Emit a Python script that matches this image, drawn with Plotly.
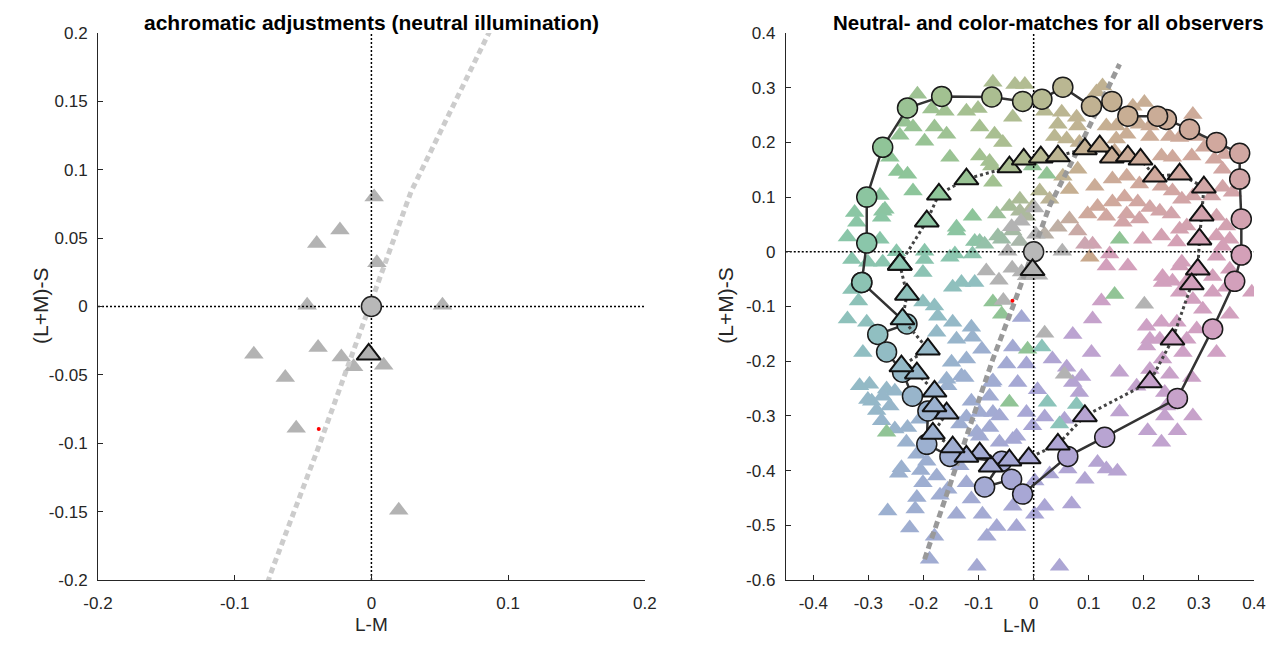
import math
import plotly.graph_objects as go

# ---------------- data ----------------
# left panel: achromatic (neutral) adjustments of individual observers
ach_x = [0.002, -0.023, -0.040, 0.004, -0.047, 0.052, -0.086, -0.039, -0.022, -0.013, 0.009, -0.063, -0.055, 0.020]
ach_y = [0.080, 0.056, 0.046, 0.032, 0.001, 0.001, -0.035, -0.030, -0.037, -0.044, -0.043, -0.052, -0.089, -0.149]

# mean neutral (circle = stimulus, triangle = mean adjustment)
neutral_stim_x = [0.0]
neutral_stim_y = [0.0]
neutral_mean_x = [-0.002]
neutral_mean_y = [-0.035]

# illuminant point
illum_x = [-0.0385]
illum_y = [-0.0895]

# daylight-like locus (dashed)
locus_x = [-0.198, -0.140, -0.113, -0.074, -0.038, 0.029, 0.087, 0.156]
locus_y = [-0.562, -0.391, -0.318, -0.196, -0.101, 0.084, 0.200, 0.343]

# right panel: stimuli (circles) in order
stim_x = [-0.312, -0.230, -0.283, -0.267, -0.238, -0.220, -0.192, -0.194, -0.152, -0.058, -0.089, -0.040,
          -0.020, 0.062, 0.129, 0.261, 0.325, 0.365, 0.377, 0.377, 0.374, 0.374, 0.332, 0.283, 0.241,
          0.225, 0.171, 0.142, 0.105, 0.053, 0.015, -0.020, -0.076, -0.167, -0.229, -0.274, -0.303, -0.303, -0.312]
stim_y = [-0.056, -0.132, -0.151, -0.183, -0.220, -0.264, -0.291, -0.352, -0.374, -0.383, -0.430, -0.416,
          -0.443, -0.374, -0.339, -0.268, -0.141, -0.054, -0.006, 0.060, 0.133, 0.180, 0.200, 0.224, 0.242,
          0.248, 0.248, 0.275, 0.266, 0.301, 0.279, 0.275, 0.283, 0.284, 0.263, 0.191, 0.100, 0.016, -0.056]

# mean matches (triangles) in order
match_x = [-0.243, -0.194, -0.172, -0.122, -0.044, -0.018, 0.013, 0.044, 0.093, 0.120, 0.142, 0.171, 0.194,
           0.220, 0.265, 0.309, 0.305, 0.301, 0.298, 0.287, 0.252, 0.211, 0.093, 0.044, -0.009, -0.044,
           -0.078, -0.098, -0.122, -0.147, -0.183, -0.158, -0.180, -0.180, -0.212, -0.240, -0.192, -0.238,
           -0.230, -0.243]
match_y = [-0.023, 0.056, 0.105, 0.133, 0.155, 0.169, 0.173, 0.175, 0.188, 0.193, 0.173, 0.175, 0.169,
           0.138, 0.142, 0.118, 0.067, 0.023, -0.032, -0.059, -0.160, -0.238, -0.300, -0.352, -0.377, -0.381,
           -0.392, -0.368, -0.374, -0.357, -0.332, -0.295, -0.282, -0.255, -0.222, -0.209, -0.178, -0.123,
           -0.078, -0.023]

# individual observer matches
obs_x = [
    -0.211, -0.074, -0.034, -0.016, -0.185, -0.161, -0.122, -0.101, -0.038, -0.234, -0.219, -0.180, -0.158,
    -0.098, -0.071, -0.243, -0.198, -0.056, -0.152, -0.098, -0.261, -0.247, -0.229, -0.076, -0.074, -0.219,
    -0.279, -0.325, -0.274, -0.276, -0.321, -0.140, -0.111, -0.067, -0.098, -0.038, -0.058, -0.025, -0.279,
    -0.249, -0.198, -0.143, -0.111, -0.044, -0.025, -0.002, -0.013,
    -0.080, -0.270, -0.140, -0.065, -0.107,
    0.020, 0.051, 0.044, 0.114, 0.125, 0.201, 0.180, 0.289, 0.078, 0.080, 0.132, 0.150, 0.192, 0.211, 0.247,
    0.265, 0.296, 0.310, 0.347, 0.038, 0.060, 0.150, 0.169, 0.211, 0.083, 0.147, 0.232, 0.252, 0.287, 0.328,
    0.343, 0.053, 0.080, 0.143, 0.169, 0.192, 0.111, 0.011, 0.065, 0.116, 0.143, 0.165, 0.189, 0.211, 0.232,
    0.252, 0.269, 0.289, 0.323, 0.343, 0.361, 0.065, 0.098, 0.132, 0.169, 0.192, 0.229, 0.250, 0.278, 0.332,
    0.350, 0.162, 0.198, 0.232, 0.260, 0.332, 0.356, 0.107,
    0.265, 0.343, 0.332, 0.356, 0.325, 0.265, 0.234, 0.278,
    0.138, 0.132, 0.171, 0.123, 0.234, 0.252, 0.269, 0.265, 0.289, 0.325, 0.350, 0.396, 0.356, 0.307,
    0.205, 0.232, 0.260, 0.296, 0.211, 0.229, 0.278, 0.205, 0.271, 0.332, 0.234, 0.211, 0.247, 0.287, 0.187,
    0.238, 0.241, 0.289, 0.107, 0.071, 0.105, 0.034, 0.060, 0.087, 0.071, 0.083, 0.156, 0.007, 0.020, 0.056,
    0.156,
    0.238, 0.207, 0.261, 0.232, 0.116, 0.132, 0.152, 0.093, 0.062, 0.029, 0.002, 0.020, 0.069, 0.002, 0.047,
    -0.294, -0.276, -0.252, -0.229, -0.231, -0.212, -0.194, -0.201, -0.176, -0.156, -0.122, -0.113, -0.140,
    -0.212, -0.265, -0.093, -0.067, -0.085, -0.031, -0.038, -0.103, -0.080, -0.062, -0.038, -0.122, -0.098,
    -0.074, -0.013, -0.002, -0.189, -0.103, -0.134,
    -0.267, -0.252, -0.261, -0.156, -0.131, -0.076, -0.113, -0.080, -0.062, -0.098, -0.134, -0.031, -0.207,
    -0.330, -0.301, -0.274, -0.198, -0.201, -0.152, -0.131, -0.107, -0.147, -0.022, -0.201, -0.338, -0.303,
    -0.180, -0.174, -0.147, -0.113, -0.111, -0.140, -0.176, -0.094, -0.038, -0.049, -0.013, -0.149, -0.122,
    -0.074, -0.125, -0.158, -0.310, -0.298, -0.316, -0.274, -0.301, -0.029,
    -0.338, -0.330, -0.318,
    0.029, 0.044, 0.020, 0.080, -0.025, -0.089, 0.093,
    -0.240, -0.205, -0.285, -0.170, -0.215, -0.245, -0.180, -0.225,
]
obs_y = [
    0.288, 0.310, 0.306, 0.306, 0.261, 0.257, 0.257, 0.262, 0.246, 0.237, 0.228, 0.228, 0.215,
    0.228, 0.215, 0.213, 0.202, 0.200, 0.173, 0.175, 0.173, 0.147, 0.142, 0.157, 0.127, 0.111,
    0.103, 0.072, 0.074, 0.063, 0.054, 0.038, 0.065, 0.069, 0.019, 0.038, 0.023, 0.019, 0.023,
    0.000, 0.001, -0.004, -0.004, 0.083, 0.096, 0.083, 0.065,
    0.165, 0.078, 0.045, 0.029, 0.019,
    0.257, 0.255, 0.233, 0.292, 0.303, 0.273, 0.266, 0.251, 0.246, 0.230, 0.230, 0.230, 0.233, 0.230, 0.211,
    0.209, 0.211, 0.191, 0.178, 0.211, 0.206, 0.206, 0.215, 0.211, 0.200, 0.184, 0.175, 0.173, 0.175, 0.169,
    0.151, 0.138, 0.151, 0.133, 0.138, 0.124, 0.120, 0.111, 0.114, 0.083, 0.091, 0.100, 0.091, 0.081, 0.120,
    0.111, 0.096, 0.102, 0.102, 0.118, 0.109, 0.060, 0.069, 0.065, 0.069, 0.060, 0.074, 0.069, 0.047, 0.065,
    0.047, 0.054, 0.023, 0.029, 0.018, 0.029, 0.023, 0.014,
    0.041, 0.010, -0.008, -0.032, -0.045, -0.026, -0.045, -0.054,
    -0.004, -0.026, -0.026, -0.090, -0.056, -0.054, -0.019, -0.074, -0.087, -0.074, -0.065, -0.074, -0.114, -0.105,
    -0.136, -0.129, -0.129, -0.141, -0.160, -0.160, -0.160, -0.172, -0.184, -0.184, -0.196, -0.215, -0.224, -0.230, -0.246,
    -0.257, -0.282, -0.300, -0.123, -0.151, -0.184, -0.196, -0.211, -0.228, -0.239, -0.257, -0.220, -0.252, -0.302, -0.306,
    -0.293,
    -0.300, -0.327, -0.327, -0.348, -0.385, -0.397, -0.401, -0.416, -0.397, -0.406, -0.419, -0.465, -0.461, -0.480, -0.575,
    -0.273, -0.309, -0.324, -0.321, -0.348, -0.370, -0.383, -0.422, -0.410, -0.434, -0.422, -0.452, -0.480,
    -0.449, -0.474, -0.480, -0.502, -0.520, -0.502, -0.465, -0.330, -0.321, -0.348, -0.343, -0.302, -0.294,
    -0.294, -0.294, -0.318, -0.562, -0.575, -0.391,
    -0.251, -0.255, -0.282, -0.245, -0.227, -0.239, -0.273, -0.264, -0.300, -0.337, -0.315, -0.337, -0.306,
    -0.014, -0.019, -0.019, -0.014, -0.038, -0.010, -0.056, -0.056, -0.065, -0.120, -0.092, -0.123, -0.129,
    -0.099, -0.118, -0.129, -0.138, -0.156, -0.160, -0.147, -0.178, -0.174, -0.205, -0.205, -0.202, -0.196,
    -0.236, -0.230, -0.233, -0.184, -0.242, -0.245, -0.264, -0.270, -0.239,
    0.027, -0.069, -0.090,
    0.096, 0.045, 0.032, 0.038, 0.074, 0.014, 0.014,
    -0.395, -0.400, -0.290, -0.445, -0.470, -0.405, -0.520, -0.505,
]

# observer matches that fall far from their stimulus (drawn in stimulus colour)
green_match_x = [0.156, 0.147, -0.044, -0.011, -0.074, -0.058, -0.002, 0.024, -0.267]
green_match_y = [0.023, -0.078, -0.275, -0.178, -0.092, -0.114, 0.157, 0.142, -0.330]
teal_match_x = [0.015, 0.025, 0.078, 0.047]
teal_match_y = [-0.174, -0.275, -0.279, -0.315]
grey_match_x = [0.201, 0.056]
grey_match_y = [-0.096, -0.224]
tan_match_x = [0.102]
tan_match_y = [-0.010]

# ticks
left_ticks_x = [-0.2, -0.1, 0.0, 0.1, 0.2]
left_ticklabels_x = ["-0.2", "-0.1", "0", "0.1", "0.2"]
left_ticks_y = [0.2, 0.15, 0.1, 0.05, 0.0, -0.05, -0.1, -0.15, -0.2]
left_ticklabels_y = ["0.2", "0.15", "0.1", "0.05", "0", "-0.05", "-0.1", "-0.15", "-0.2"]
right_ticks_x = [-0.4, -0.3, -0.2, -0.1, 0.0, 0.1, 0.2, 0.3, 0.4]
right_ticklabels_x = ["-0.4", "-0.3", "-0.2", "-0.1", "0", "0.1", "0.2", "0.3", "0.4"]
right_ticks_y = [0.4, 0.3, 0.2, 0.1, 0.0, -0.1, -0.2, -0.3, -0.4, -0.5, -0.6]
right_ticklabels_y = ["0.4", "0.3", "0.2", "0.1", "0", "-0.1", "-0.2", "-0.3", "-0.4", "-0.5", "-0.6"]

left_range_x = [-0.2, 0.2]
left_range_y = [-0.2, 0.2]
right_range_x = [-0.45, 0.4]
right_range_y = [-0.6, 0.4]

# ---------------- styling helpers ----------------
HUE_DEG = [0, 30, 60, 90, 120, 150, 180, 210, 240, 270, 300, 330, 360]
HUE_RGB = [(212, 160, 184), (209, 168, 158), (198, 175, 146), (180, 187, 146), (162, 193, 145),
           (141, 197, 153), (138, 198, 172), (144, 190, 194), (156, 176, 208), (169, 166, 213),
           (191, 163, 208), (208, 161, 196), (212, 160, 184)]
GREY = (178, 178, 178)


def hue_colour(x, y):
    ang = math.degrees(math.atan2(y, x)) % 360
    for i in range(len(HUE_DEG) - 1):
        if HUE_DEG[i] <= ang <= HUE_DEG[i + 1]:
            t = (ang - HUE_DEG[i]) / (HUE_DEG[i + 1] - HUE_DEG[i])
            c = [HUE_RGB[i][k] + t * (HUE_RGB[i + 1][k] - HUE_RGB[i][k]) for k in range(3)]
            break
    r = math.hypot(x, y)
    w = min(1.0, r / 0.12)
    c = [GREY[k] * (1 - w) + c[k] * w for k in range(3)]
    return "rgb(%d,%d,%d)" % tuple(int(round(v)) for v in c)


INK = "#262626"
FONT = "Arial, 'Liberation Sans', sans-serif"
TRI = 17  # size of the small observer triangles

fig = go.Figure()


def add(tr, panel):
    if panel == 1:
        tr.update(xaxis="x", yaxis="y")
    else:
        tr.update(xaxis="x2", yaxis="y2")
    fig.add_trace(tr)


# ----- left panel -----
add(go.Scatter(x=ach_x, y=ach_y, mode="markers",
               marker=dict(symbol="triangle-up", size=TRI, color="#b3b3b3", line=dict(width=0))), 1)
add(go.Scatter(x=locus_x, y=locus_y, mode="lines",
               line=dict(color="#cccccc", width=5, dash="6px,4px")), 1)
add(go.Scatter(x=left_range_x, y=[0, 0], mode="lines",
               line=dict(color="black", width=1.5, dash="2px,2px")), 1)
add(go.Scatter(x=[0, 0], y=left_range_y, mode="lines",
               line=dict(color="black", width=1.5, dash="2px,2px")), 1)
add(go.Scatter(x=neutral_stim_x, y=neutral_stim_y, mode="markers",
               marker=dict(symbol="circle", size=20, color="#b8b8b8", line=dict(width=1.5, color="#222"))), 1)
add(go.Scatter(x=neutral_mean_x, y=neutral_mean_y, mode="markers",
               marker=dict(symbol="triangle-up", size=21, color="#b0b0b0", line=dict(width=2, color="#111"))), 1)
add(go.Scatter(x=illum_x, y=illum_y, mode="markers",
               marker=dict(symbol="circle", size=4, color="red", line=dict(width=0))), 1)

# ----- right panel -----
add(go.Scatter(x=obs_x, y=obs_y, mode="markers",
               marker=dict(symbol="triangle-up", size=TRI,
                           color=[hue_colour(a, b) for a, b in zip(obs_x, obs_y)], line=dict(width=0))), 2)
add(go.Scatter(x=green_match_x, y=green_match_y, mode="markers",
               marker=dict(symbol="triangle-up", size=TRI, color="rgb(145,196,150)", line=dict(width=0))), 2)
add(go.Scatter(x=teal_match_x, y=teal_match_y, mode="markers",
               marker=dict(symbol="triangle-up", size=TRI, color="rgb(140,196,186)", line=dict(width=0))), 2)
add(go.Scatter(x=grey_match_x, y=grey_match_y, mode="markers",
               marker=dict(symbol="triangle-up", size=TRI, color="#b3b3b3", line=dict(width=0))), 2)
add(go.Scatter(x=tan_match_x, y=tan_match_y, mode="markers",
               marker=dict(symbol="triangle-up", size=TRI, color="rgb(200,168,140)", line=dict(width=0))), 2)
add(go.Scatter(x=ach_x, y=ach_y, mode="markers",
               marker=dict(symbol="triangle-up", size=TRI, color="#b3b3b3", line=dict(width=0))), 2)
add(go.Scatter(x=locus_x, y=locus_y, mode="lines",
               line=dict(color="#999999", width=5, dash="7px,4px")), 2)
add(go.Scatter(x=right_range_x, y=[0, 0], mode="lines",
               line=dict(color="black", width=1.5, dash="2px,2px")), 2)
add(go.Scatter(x=[0, 0], y=right_range_y, mode="lines",
               line=dict(color="black", width=1.5, dash="2px,2px")), 2)
add(go.Scatter(x=stim_x, y=stim_y, mode="lines+markers",
               line=dict(color="#333333", width=2.5),
               marker=dict(symbol="circle", size=20,
                           color=[hue_colour(a, b) for a, b in zip(stim_x, stim_y)],
                           line=dict(width=1.5, color="#1a1a1a"))), 2)
add(go.Scatter(x=match_x, y=match_y, mode="lines",
               line=dict(color="#444444", width=3, dash="3px,3px")), 2)
add(go.Scatter(x=match_x, y=match_y, mode="markers",
               marker=dict(symbol="triangle-up", size=21,
                           color=[hue_colour(a, b) for a, b in zip(match_x, match_y)],
                           line=dict(width=2, color="#111111"))), 2)
add(go.Scatter(x=neutral_stim_x, y=neutral_stim_y, mode="markers",
               marker=dict(symbol="circle", size=20, color="#b8b8b8", line=dict(width=1.5, color="#222"))), 2)
add(go.Scatter(x=neutral_mean_x, y=[-0.033], mode="markers",
               marker=dict(symbol="triangle-up", size=21, color="#b0b0b0", line=dict(width=2, color="#111"))), 2)
add(go.Scatter(x=illum_x, y=illum_y, mode="markers",
               marker=dict(symbol="circle", size=4, color="red", line=dict(width=0))), 2)

# page body has an 8px margin: work in screen pixels and shift
OFF = 8
W, H = 1282 - 2 * OFF, 647 - 2 * OFF
L1, R1 = 98 - OFF, 645 - OFF
L2, R2 = 786 - OFF, 1254.4 - OFF
TOP, BOT = 33 - OFF, 580 - OFF
ML, MR, MT, MB = L1, W - R2, TOP, H - BOT
PW = W - ML - MR

axis_common = dict(showgrid=False, zeroline=False, showline=True, linecolor=INK, linewidth=1,
                   ticks="inside", ticklen=5, tickcolor=INK, tickwidth=1, mirror=False,
                   tickfont=dict(family=FONT, size=17, color=INK), fixedrange=True, automargin=False)

fig.update_layout(
    width=W, height=H, margin=dict(l=ML, r=MR, t=MT, b=MB, pad=0), autosize=False,
    paper_bgcolor="white", plot_bgcolor="white", showlegend=False,
    xaxis=dict(domain=[0, (R1 - L1) / PW], range=left_range_x, tickvals=left_ticks_x,
               ticktext=left_ticklabels_x, anchor="y", ticklabelstandoff=8, **axis_common),
    yaxis=dict(domain=[0, 1], range=left_range_y, tickvals=left_ticks_y,
               ticktext=left_ticklabels_y, anchor="x", ticklabelstandoff=6, **axis_common),
    xaxis2=dict(domain=[(L2 - L1) / PW, 1], range=right_range_x, tickvals=right_ticks_x,
                ticktext=right_ticklabels_x, anchor="y2", ticklabelstandoff=8, **axis_common),
    yaxis2=dict(domain=[0, 1], range=right_range_y, tickvals=right_ticks_y,
                ticktext=right_ticklabels_y, anchor="x2", ticklabelstandoff=6, **axis_common),
)


def px(xp):
    return (xp - OFF - ML) / PW


def py(yp):
    return (H - MB - (yp - OFF)) / (H - MT - MB)


ann = dict(xref="paper", yref="paper", showarrow=False)
fig.add_annotation(text="<b>achromatic adjustments (neutral illumination)</b>", x=px(372),
                   y=py(9), xanchor="center", yanchor="top",
                   font=dict(family=FONT, size=21, color="black"), **ann)
fig.add_annotation(text="<b>Neutral- and color-matches for all observers</b>", x=px(1049),
                   y=py(9), xanchor="center", yanchor="top",
                   font=dict(family=FONT, size=20.5, color="black"), **ann)
fig.add_annotation(text="L-M", x=px(372), y=py(637), xanchor="center", yanchor="bottom",
                   font=dict(family=FONT, size=19, color=INK), **ann)
fig.add_annotation(text="L-M", x=px(1020), y=py(638), xanchor="center", yanchor="bottom",
                   font=dict(family=FONT, size=19, color=INK), **ann)
fig.add_annotation(text="(L+M)-S", x=px(40), y=py(306), xanchor="center", yanchor="middle",
                   textangle=-90, font=dict(family=FONT, size=21, color=INK), **ann)
fig.add_annotation(text="(L+M)-S", x=px(725), y=py(306), xanchor="center", yanchor="middle",
                   textangle=-90, font=dict(family=FONT, size=21, color=INK), **ann)

fig.write_html("out.html")
